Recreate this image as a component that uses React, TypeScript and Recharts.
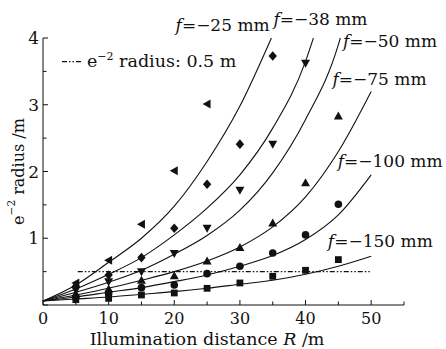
import React from "react";
import { ComposedChart, Line, Scatter, XAxis, YAxis, ReferenceDot } from "recharts";

const FONT = '"DejaVu Serif", serif';
const INK = "#111";

// measured e^-2 radius (m) at illumination distances R (m)
const measX = [5, 10, 15, 20, 25, 30, 35, 40, 45];
const meas25 = [0.33, 0.67, 1.21, 2.01, 3.01];
const meas38 = [0.28, 0.45, 0.71, 1.15, 1.81, 2.41, 3.73];
const meas50 = [0.22, 0.35, 0.5, 0.77, 1.15, 1.72, 2.41, 3.62];
const meas75 = [0.17, 0.24, 0.37, 0.44, 0.66, 0.86, 1.23, 1.83, 2.83];
const meas100 = [0.12, 0.17, 0.26, 0.3, 0.47, 0.58, 0.78, 1.05, 1.51];
const meas150 = [0.08, 0.1, 0.15, 0.18, 0.25, 0.33, 0.43, 0.52, 0.68];

// fitted curves as [R, radius]
const fit25 = [[0, 0.06], [5, 0.3], [10, 0.64], [15, 1.0], [20, 1.48], [25, 2.15], [30, 2.98], [34.8, 4.0]];
const fit38 = [[0, 0.06], [5, 0.24], [10, 0.46], [15, 0.71], [20, 1.05], [25, 1.45], [30, 1.95], [35, 2.65], [40, 3.65], [41.2, 4.0]];
const fit50 = [[0, 0.06], [5, 0.19], [10, 0.34], [15, 0.52], [20, 0.76], [25, 1.04], [30, 1.42], [35, 1.98], [40, 2.78], [45, 3.9], [45.3, 4.0]];
const fit75 = [[0, 0.06], [5, 0.15], [10, 0.25], [15, 0.37], [20, 0.5], [25, 0.66], [30, 0.87], [35, 1.17], [40, 1.62], [45, 2.3], [50, 3.2]];
const fit100 = [[0, 0.06], [5, 0.12], [10, 0.19], [15, 0.26], [20, 0.35], [25, 0.45], [30, 0.58], [35, 0.74], [40, 0.98], [45, 1.35], [50, 1.95]];
const fit150 = [[0, 0.06], [5, 0.09], [10, 0.12], [15, 0.16], [20, 0.2], [25, 0.25], [30, 0.31], [35, 0.37], [40, 0.46], [45, 0.58], [50, 0.73]];

// e^-2 reference line
const refRange = [5.3, 50];
const refRadius = 0.5;

const xTicks = [0, 5, 10, 15, 20, 25, 30, 35, 40, 45, 50, 55];
const yTicks = [0, 0.5, 1, 1.5, 2, 2.5, 3, 3.5, 4];

// curve labels: [text value, R, radius] of the label's left baseline
const curveLabels: [string, number, number][] = [
  ["−25", 20.2, 4.11],
  ["−38", 35.1, 4.19],
  ["−50", 45.7, 3.87],
  ["−75", 44.1, 3.3],
  ["−100", 44.9, 2.06],
  ["−150", 43.4, 0.87],
];
const legendAt = [6.7, 3.57];

const toPts = (vals: number[]) => vals.map((y, i) => ({ x: measX[i], y }));
const toFit = (pairs: number[][]) => pairs.map(([x, y]) => ({ x, y }));

type ShapeProps = { cx?: number; cy?: number };
const triLeft = ({ cx = 0, cy = 0 }: ShapeProps) => (
  <path d={`M${cx - 4.5},${cy} L${cx + 3.5},${cy - 4.5} L${cx + 3.5},${cy + 4.5} Z`} fill={INK} />
);
const diamond = ({ cx = 0, cy = 0 }: ShapeProps) => (
  <path d={`M${cx},${cy - 4.8} L${cx + 4.2},${cy} L${cx},${cy + 4.8} L${cx - 4.2},${cy} Z`} fill={INK} />
);
const triDown = ({ cx = 0, cy = 0 }: ShapeProps) => (
  <path d={`M${cx - 4.5},${cy - 3.5} L${cx + 4.5},${cy - 3.5} L${cx},${cy + 4.5} Z`} fill={INK} />
);
const triUp = ({ cx = 0, cy = 0 }: ShapeProps) => (
  <path d={`M${cx - 4.5},${cy + 3.5} L${cx + 4.5},${cy + 3.5} L${cx},${cy - 4.5} Z`} fill={INK} />
);
const circle = ({ cx = 0, cy = 0 }: ShapeProps) => <circle cx={cx} cy={cy} r={3.8} fill={INK} />;
const square = ({ cx = 0, cy = 0 }: ShapeProps) => (
  <rect x={cx - 3.4} y={cy - 3.4} width={6.8} height={6.8} fill={INK} />
);

function XTick({ x, y, payload }: any) {
  const major = payload.value % 10 === 0;
  return (
    <g>
      <line x1={x} y1={y} x2={x} y2={y - (major ? 5 : 3.5)} stroke={INK} />
      {major && (
        <text x={x} y={y + 19} textAnchor="middle" fontFamily={FONT} fontSize={16} fill={INK}>
          {payload.value}
        </text>
      )}
    </g>
  );
}

function YTick({ x, y, payload }: any) {
  const v = payload.value;
  const major = Number.isInteger(v);
  return (
    <g>
      <line x1={x} y1={y} x2={x + (major ? 5 : 3.5)} y2={y} stroke={INK} />
      {major && v !== 0 && (
        <text x={x - 4} y={y + 6} textAnchor="end" fontFamily={FONT} fontSize={17} fill={INK}>
          {v}
        </text>
      )}
    </g>
  );
}

function XTitle({ viewBox }: any) {
  const cx = viewBox.x + (viewBox.width * 25) / 55;
  return (
    <text x={cx} y={viewBox.y + 40} textAnchor="middle" fontFamily={FONT} fontSize={17.5} fill={INK}>
      Illumination distance <tspan fontStyle="italic">R</tspan> /m
    </text>
  );
}

function YTitle({ viewBox }: any) {
  const cx = 18;
  const cy = viewBox.y + viewBox.height / 2;
  return (
    <text
      x={cx}
      y={cy}
      transform={`rotate(-90 ${cx} ${cy})`}
      textAnchor="middle"
      dominantBaseline="central"
      fontFamily={FONT}
      fontSize={16}
      fill={INK}
    >
      e<tspan dy={-7} fontSize={10.5}>−2</tspan>
      <tspan dy={7}> radius /m</tspan>
    </text>
  );
}

const curveLabel = (val: string) => ({ viewBox }: any) => (
  <text x={viewBox.x + 1} y={viewBox.y + 1} fontFamily={FONT} fontSize={17} fill={INK}>
    <tspan fontStyle="italic">f</tspan>={val} mm
  </text>
);

function LegendLabel({ viewBox }: any) {
  const x = viewBox.x + 1;
  const y = viewBox.y + 1;
  return (
    <g>
      <line x1={x - 25} y1={y - 5} x2={x - 4} y2={y - 5} stroke={INK} strokeWidth={1.2} strokeDasharray="5 2 1.5 2 1.5 2" />
      <text x={x} y={y} fontFamily={FONT} fontSize={17.5} fill={INK}>
        e<tspan dy={-7} fontSize={11}>−2</tspan>
        <tspan dy={7}> radius: 0.5 m</tspan>
      </text>
    </g>
  );
}

const fits = [fit25, fit38, fit50, fit75, fit100, fit150];
const series: [number[], (p: ShapeProps) => React.ReactElement][] = [
  [meas25, triLeft],
  [meas38, diamond],
  [meas50, triDown],
  [meas75, triUp],
  [meas100, circle],
  [meas150, square],
];

export default function App() {
  return (
    <div style={{ position: "absolute", left: 0, top: 0, background: "#fff" }}>
      <ComposedChart width={446} height={349} margin={{ top: 38, right: 42, bottom: 0, left: 0 }}>
        <XAxis
          type="number"
          dataKey="x"
          domain={[0, 55]}
          ticks={xTicks}
          interval={0}
          tickSize={0}
          tickMargin={0}
          tick={<XTick />}
          height={44}
          stroke={INK}
          label={<XTitle />}
          allowDuplicatedCategory={false}
        />
        <YAxis
          type="number"
          dataKey="y"
          domain={[0, 4]}
          ticks={yTicks}
          interval={0}
          tickSize={0}
          tickMargin={0}
          tick={<YTick />}
          width={43}
          stroke={INK}
          label={<YTitle />}
        />
        <Line
          data={refRange.map((x) => ({ x, y: refRadius }))}
          dataKey="y"
          stroke={INK}
          strokeWidth={1.2}
          strokeDasharray="5 2 1.5 2 1.5 2"
          dot={false}
          isAnimationActive={false}
        />
        {fits.map((f, i) => (
          <Line
            key={`fit${i}`}
            data={toFit(f)}
            dataKey="y"
            type="monotone"
            stroke={INK}
            strokeWidth={1.1}
            dot={false}
            isAnimationActive={false}
          />
        ))}
        {series.map(([vals, shape], i) => (
          <Scatter key={`m${i}`} data={toPts(vals)} dataKey="y" shape={shape} isAnimationActive={false} />
        ))}
        {curveLabels.map(([t, x, y]) => (
          <ReferenceDot
            key={t}
            x={x}
            y={y}
            r={1}
            fill="none"
            stroke="none"
            ifOverflow="visible"
            label={curveLabel(t)}
          />
        ))}
        <ReferenceDot
          x={legendAt[0]}
          y={legendAt[1]}
          r={1}
          fill="none"
          stroke="none"
          ifOverflow="visible"
          label={<LegendLabel />}
        />
      </ComposedChart>
    </div>
  );
}
